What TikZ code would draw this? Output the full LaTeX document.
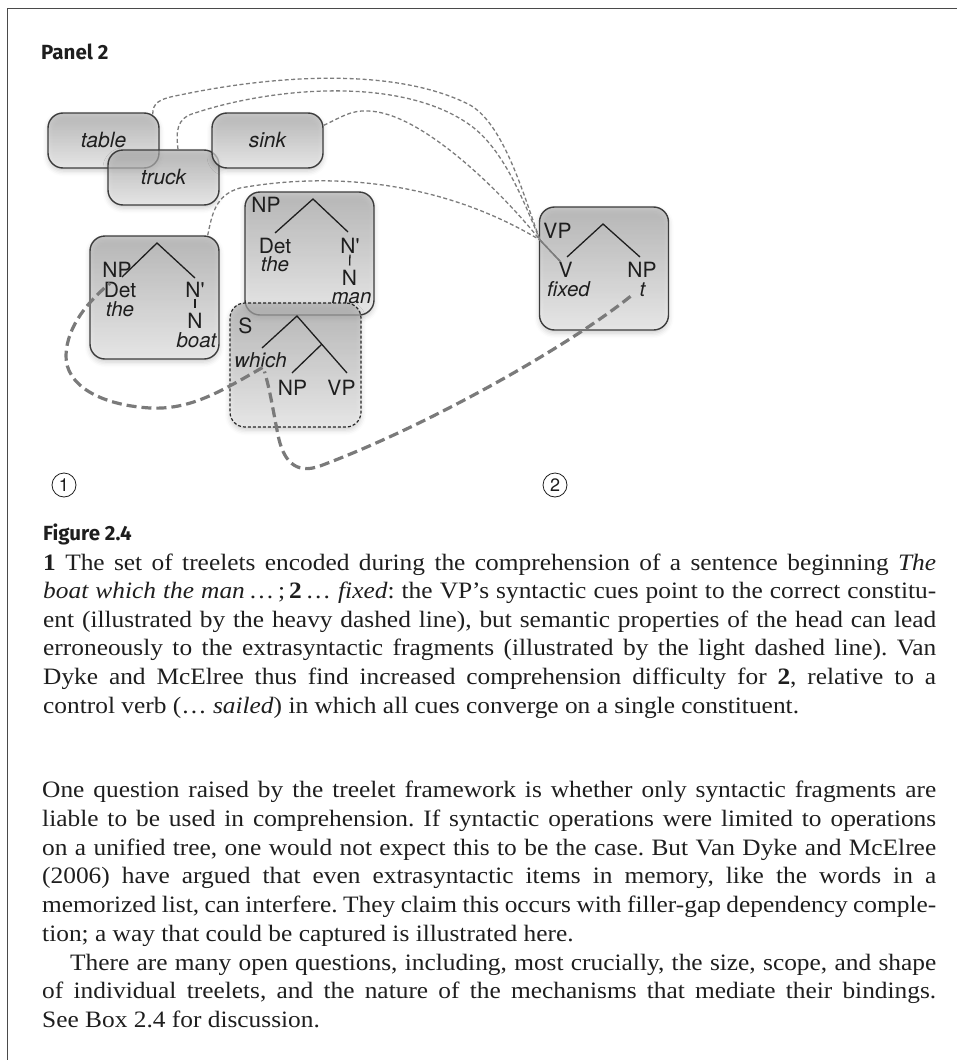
\documentclass[tikz,border=0pt]{standalone}
\usepackage{fontspec}
\setmainfont{Liberation Serif}[FakeStretch=1.08]
\newfontfamily\treefont{TeX Gyre Heros}
\newfontfamily\headfont{Fira Sans}
\usetikzlibrary{shadows.blur}

\definecolor{boxline}{HTML}{3C3C3C}
\definecolor{boxtop}{HTML}{A9A9A9}
\definecolor{boxbot}{HTML}{F2F2F2}
\definecolor{lightdash}{HTML}{7C7C7C}
\definecolor{heavydash}{HTML}{7A7A7A}
\definecolor{ink}{HTML}{1E1E1E}
\definecolor{framecol}{HTML}{4A4A4A}

\tikzset{
  glassy/.style={draw=boxline, line width=1.4pt, rounded corners=15pt,
    top color=boxtop, bottom color=boxbot, fill opacity=0.65, text opacity=1,
    blur shadow={shadow xshift=0pt, shadow yshift=-3pt, shadow blur radius=5pt, shadow opacity=30},
    inner sep=0pt},
  treelet/.style={glassy, minimum width=129pt, minimum height=123pt},
  dashtreelet/.style={glassy, draw=black!85, line width=1.2pt, dash pattern=on 3pt off 2pt,
    minimum width=131pt, minimum height=124pt},
  wordbox/.style={glassy, minimum width=111pt, minimum height=55pt,
    font=\treefont\itshape\fontsize{21}{21}\selectfont, text=ink},
  lab/.style={font=\treefont\fontsize{21}{21}\selectfont, text=ink, inner sep=0pt, anchor=base},
  ilab/.style={lab, font=\treefont\itshape\fontsize{20.5}{20.5}\selectfont},
  branch/.style={draw=ink, line width=1.3pt},
  light/.style={draw=lightdash, line width=1.3pt, dash pattern=on 4pt off 2.5pt},
  heavy/.style={draw=heavydash, line width=3.2pt, dash pattern=on 10pt off 5pt},
  headtext/.style={font=\headfont\bfseries\fontsize{20.5}{20.5}\selectfont, text=ink, inner sep=0pt, anchor=base west},
  txt/.style={font=\frenchspacing\fontsize{23.5}{28}\selectfont, text=ink, inner sep=0pt, anchor=base west},
  numcirc/.style={circle, draw=ink, line width=0.8pt, minimum size=24pt, inner sep=0pt,
    font=\treefont\fontsize{18}{18}\selectfont, text=ink},
  frameline/.style={draw=framecol, line width=1.8pt}
}

\begin{document}
\begin{tikzpicture}[x=1pt,y=-1pt]
\useasboundingbox (0,0) rectangle (957,1060);

% page frame: rule along the top and down the left side
\coordinate (frTR) at (957,8.5);
\coordinate (frTL) at (7.5,8.5);
\coordinate (frBL) at (7.5,1060);
\draw[frameline] (frTR) -- (frTL) -- (frBL);

\node[headtext] (panel) at (41,59) {Panel 2};

% extrasyntactic word fragments
\node[wordbox] (table) at (103.5,140.5) {table};
\node[wordbox] (truck) at (163.5,177.5) {truck};
\node[wordbox] (sink)  at (267.5,140.5) {sink};

% treelet boxes
\node[treelet] (boat) at (154.5,297.5) {};
\node[treelet] (man)  at (309.5,253.5) {};
\node[dashtreelet] (sbox) at (295.5,365) {};
\node[treelet] (vpbox) at (604,268.5) {};

% NP treelet: the boat
\node[lab]  (bNP)   at (117,277)   {NP};
\node[lab]  (bDet)  at (120,297)   {Det};
\node[ilab] (bThe)  at (120,316)   {the};
\node[lab]  (bNbar) at (195,297)   {N\textquotesingle};
\node[lab]  (bN)    at (195,328)   {N};
\node[ilab] (bBoat) at (196.5,347) {boat};
\coordinate (bTop) at (157,243);
\coordinate (bL) at (122,277);
\coordinate (bR) at (195,278);
\draw[branch] (bL) -- (bTop) -- (bR);
\draw[branch, shorten <=1.5pt, shorten >=4pt] (bNbar.south) -- (bN.north);

% NP treelet: the man
\node[lab]  (mNP)   at (266,212)   {NP};
\node[lab]  (mDet)  at (275,253)   {Det};
\node[ilab] (mThe)  at (275,271)   {the};
\node[lab]  (mNbar) at (350,253)   {N\textquotesingle};
\node[lab]  (mN)    at (349.5,285) {N};
\node[ilab] (mMan)  at (351.5,303) {man};
\coordinate (mTop) at (313,199);
\coordinate (mL) at (275,233);
\coordinate (mR) at (348,232);
\draw[branch] (mL) -- (mTop) -- (mR);
\draw[branch, shorten <=1.5pt, shorten >=4pt] (mNbar.south) -- (mN.north);

% S treelet: which
\node[lab]  (sS)     at (245.5,333) {S};
\node[ilab] (sWhich) at (260.5,367) {which};
\node[lab]  (sNP)    at (292.5,395) {NP};
\node[lab]  (sVP)    at (341.5,395) {VP};
\coordinate (sTop) at (297,316);
\coordinate (sL) at (262,348);
\coordinate (sR) at (347,373);
\coordinate (sMid) at (322,344);
\coordinate (sML) at (292,373);
\draw[branch] (sL) -- (sTop) -- (sR);
\draw[branch] (sMid) -- (sML);

% VP treelet: fixed
\node[lab]  (vVP)    at (557.5,238) {VP};
\node[lab]  (vV)     at (565.5,277) {V};
\node[ilab] (vFixed) at (568.5,296) {fixed};
\node[lab]  (vNP)    at (642,277)   {NP};
\node[ilab] (vT)     at (642.5,296) {t};
\coordinate (vTop) at (603,224);
\coordinate (vL) at (567,257);
\coordinate (vR) at (640,257);
\draw[branch] (vL) -- (vTop) -- (vR);

% light dashed cues from the verb head to the fragments
\coordinate (conv) at (540,240);
\coordinate (vHook) at ([xshift=2pt]vV.north west);
\draw[light] ([xshift=-7pt,yshift=-2pt]table.north east)
  .. controls (153,103) and (158,99) .. (180,95)
  .. controls (260,78) and (390,64) .. (470,105)
  .. controls (505,125) and (525,200) .. (conv) -- (vHook);
\draw[light] ([xshift=14.5pt]truck.north)
  .. controls (176,132) and (176,118) .. (195,113)
  .. controls (270,88) and (400,75) .. (470,125)
  .. controls (505,150) and (525,205) .. (conv) -- (vHook);
\draw[light] ([yshift=-13pt]sink.north east)
  .. controls (340,118) and (350,110) .. (368,111)
  .. controls (420,112) and (500,190) .. (conv) -- (vHook);
\draw[light] ([xshift=-12pt]boat.north east)
  .. controls (212,215) and (215,195) .. (240,188)
  .. controls (330,172) and (440,180) .. (conv) -- (vHook);

% heavy dashed syntactic dependencies
\draw[heavy] ([xshift=2pt]sWhich.south)
  .. controls (220,392) and (190,410) .. (150,408)
  .. controls (100,405) and (65,385) .. (66,355)
  .. controls (67,325) and (90,300) .. ([xshift=-7pt,yshift=-6pt]bNP.south);
\draw[heavy] ([xshift=-12pt]vT.south)
  .. controls (570,345) and (430,425) .. (320,466)
  .. controls (295,475) and (283,460) .. (278,435)
  .. controls (273,410) and (270,390) .. ([xshift=4pt,yshift=-4pt]sWhich.south);

% stage numbers
\node[numcirc] (n1) at (64,485) {1};
\node[numcirc] (n2) at (555,485) {2};

% caption
\node[headtext] (fig) at (43,540) {Figure 2.4};
\node[txt] (cap1) at (43,570) {\makebox[893pt][s]{\textbf{1} The set of treelets encoded during the comprehension of a sentence beginning \textit{The}}};
\node[txt] (cap2) at (43,598.5) {\makebox[893pt][s]{\textit{boat which the man}\,\ldots\,;\,\textbf{2}\,\ldots\ \textit{fixed}: the VP's syntactic cues point to the correct constitu-}};
\node[txt] (cap3) at (43,627) {\makebox[893pt][s]{ent (illustrated by the heavy dashed line), but semantic properties of the head can lead}};
\node[txt] (cap4) at (43,655.5) {\makebox[893pt][s]{erroneously to the extrasyntactic fragments (illustrated by the light dashed line). Van}};
\node[txt] (cap5) at (43,684) {\makebox[893pt][s]{Dyke and McElree thus find increased comprehension difficulty for \textbf{2}, relative to a}};
\node[txt] (cap6) at (43,713) {control verb (\ldots\ \textit{sailed}) in which all cues converge on a single constituent.};

% running text
\node[txt] (par1) at (42,797) {\makebox[894pt][s]{One question raised by the treelet framework is whether only syntactic fragments are}};
\node[txt] (par2) at (42,826) {\makebox[894pt][s]{liable to be used in comprehension. If syntactic operations were limited to operations}};
\node[txt] (par3) at (42,855) {\makebox[894pt][s]{on a unified tree, one would not expect this to be the case. But Van Dyke and McElree}};
\node[txt] (par4) at (42,883.5) {\makebox[894pt][s]{(2006) have argued that even extrasyntactic items in memory, like the words in a}};
\node[txt] (par5) at (42,912) {\makebox[894pt][s]{memorized list, can interfere. They claim this occurs with filler-gap dependency comple-}};
\node[txt] (par6) at (42,941) {tion; a way that could be captured is illustrated here.};
\node[txt] (par7) at (42,970) {\makebox[894pt][s]{\hspace*{28pt}There are many open questions, including, most crucially, the size, scope, and shape}};
\node[txt] (par8) at (42,998.5) {\makebox[894pt][s]{of individual treelets, and the nature of the mechanisms that mediate their bindings.}};
\node[txt] (par9) at (42,1027) {See Box 2.4 for discussion.};
\end{tikzpicture}
\end{document}
